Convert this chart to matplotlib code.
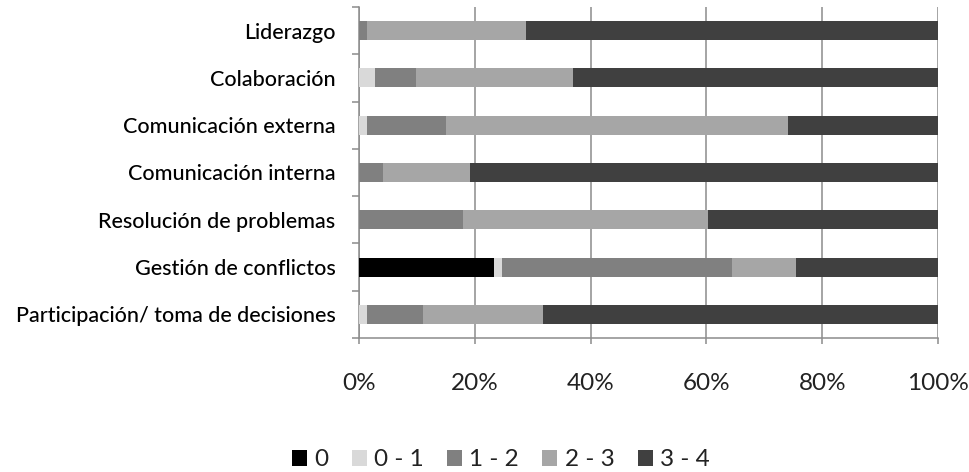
import matplotlib
matplotlib.use("Agg")
import matplotlib.pyplot as plt
import numpy as np

plt.rcParams['font.family'] = ['Lato', 'DejaVu Sans']

categories = ["Participación/ toma de decisiones", "Gestión de conflictos",
              "Resolución de problemas", "Comunicación interna",
              "Comunicación externa", "Colaboración", "Liderazgo"]
series_names = ["0", "0 - 1", "1 - 2", "2 - 3", "3 - 4"]
s0   = [0.0, 23.3, 0.0, 0.0, 0.0, 0.0, 0.0]
s01  = [1.3, 1.4, 0.0, 0.0, 1.3, 2.8, 0.0]
s12  = [9.7, 39.8, 17.9, 4.2, 13.8, 7.0, 1.3]
s23  = [20.7, 11.0, 42.4, 14.9, 59.0, 27.2, 27.5]
s34  = [68.3, 24.5, 39.7, 80.9, 25.9, 63.0, 71.2]
x_ticks = [0, 20, 40, 60, 80, 100]
x_tick_labels = ["0%", "20%", "40%", "60%", "80%", "100%"]

colors = ["#000000", "#d9d9d9", "#808080", "#a6a6a6", "#404040"]

fig = plt.figure(figsize=(9.7, 4.72), dpi=100)
ax = fig.add_axes([359/970, 1-338/472, (938-359)/970, (338-7)/472])

y = np.arange(len(categories))
left = np.zeros(len(categories))
handles = []
for name, vals, c in zip(series_names, [s0, s01, s12, s23, s34], colors):
    h = ax.barh(y, vals, left=left, height=0.4, color=c, label=name, zorder=3)
    handles.append(h)
    left = left + np.array(vals)

ax.set_xlim(0, 100)
ax.set_ylim(-0.5, len(categories) - 0.5)
ax.set_xticks(x_ticks)
ax.set_xticklabels(x_tick_labels, fontsize=17.5, color="#222222")
ax.set_yticks(y)
ax.set_yticklabels(categories, fontsize=15.5, color="#000000", fontweight='medium')
ax.set_yticks(np.arange(-0.5, len(categories), 1), minor=True)

grid_c = "#8c8c8c"
ax.grid(axis='x', color=grid_c, linewidth=1.1, zorder=0)
for s in ['top', 'right']:
    ax.spines[s].set_visible(False)
for s in ['left', 'bottom']:
    ax.spines[s].set_color(grid_c)
    ax.spines[s].set_linewidth(1.1)

ax.tick_params(axis='y', which='major', length=0, pad=17)
ax.tick_params(axis='y', which='minor', length=5, color=grid_c, width=1.1)
ax.tick_params(axis='x', which='major', length=4, color=grid_c, width=1.1, pad=21)

leg = fig.legend(handles=handles, labels=series_names, loc='center',
                 bbox_to_anchor=(501/970, 1-460/472), ncol=5, frameon=False,
                 fontsize=17.5, handlelength=0.62, handleheight=0.62,
                 handletextpad=0.3, columnspacing=0.95, borderpad=0)
for t in leg.get_texts():
    t.set_color("#222222")

fig.savefig("out.png", dpi=100)
